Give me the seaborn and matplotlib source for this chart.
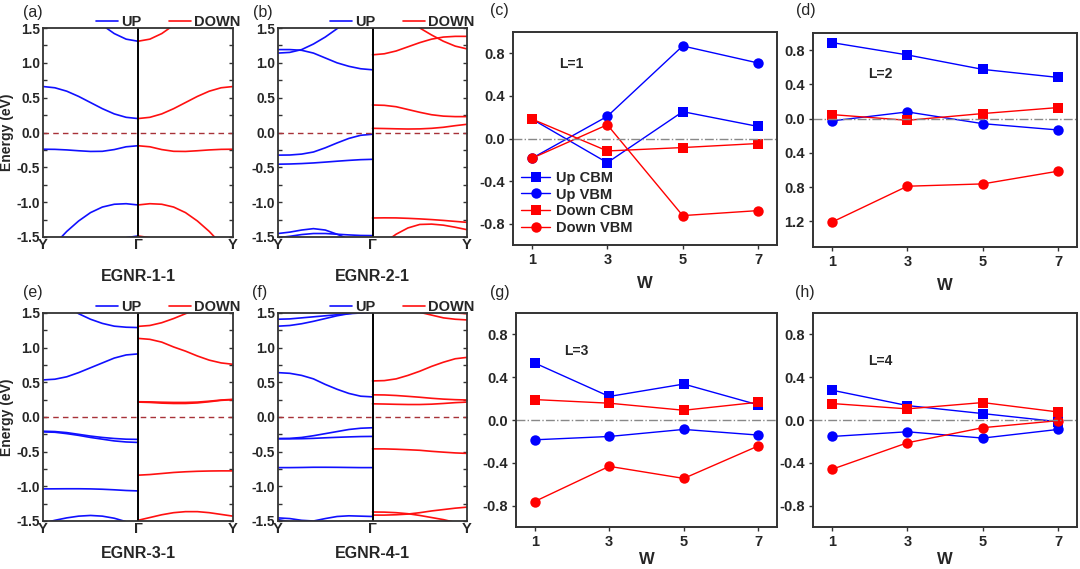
"""
Spin-resolved band structures of EGNR-n-1 and band-edge shifts vs W.
"""

import matplotlib
matplotlib.use('Agg')
import matplotlib.pyplot as plt
from matplotlib.lines import Line2D
import pandas as pd
import seaborn as sns

# ---------------------------------------------------------------
# Band data: energies (eV) sampled along the path.
# UP bands listed Y -> Gamma, DOWN bands listed Gamma -> Y.
# ---------------------------------------------------------------
K = [0.0, 0.125, 0.25, 0.375, 0.5, 0.625, 0.75, 0.875, 1.0]

A_UP = [
    [0.66, 0.642, 0.593, 0.518, 0.43, 0.342, 0.267, 0.218, 0.20],
    [-0.24, -0.242, -0.25, -0.262, -0.272, -0.27, -0.245, -0.205, -0.19],
    [-1.80, -1.60, -1.42, -1.27, -1.15, -1.07, -1.03, -1.022, -1.04],
    [1.98, 1.94, 1.87, 1.77, 1.66, 1.54, 1.42, 1.34, 1.31],
    [-2.1, -2.0, -1.9, -1.8, -1.7, -1.62, -1.56, -1.51, -1.485],
]
A_DOWN = [
    [0.20, 0.218, 0.267, 0.342, 0.43, 0.518, 0.593, 0.642, 0.66],
    [-0.19, -0.205, -0.245, -0.27, -0.272, -0.262, -0.25, -0.242, -0.24],
    [-1.04, -1.022, -1.03, -1.07, -1.15, -1.27, -1.42, -1.60, -1.80],
    [1.31, 1.34, 1.42, 1.54, 1.66, 1.77, 1.87, 1.94, 1.98],
    [-1.485, -1.51, -1.56, -1.62, -1.7, -1.8, -1.9, -2.0, -2.1],
]

B_UP = [
    [1.14, 1.15, 1.19, 1.27, 1.37, 1.49, 1.60, 1.68, 1.72],
    [1.19, 1.19, 1.18, 1.14, 1.07, 1.00, 0.95, 0.915, 0.90],
    [-0.325, -0.323, -0.31, -0.28, -0.22, -0.15, -0.085, -0.04, -0.025],
    [-0.455, -0.452, -0.446, -0.437, -0.425, -0.412, -0.40, -0.39, -0.385],
    [-1.45, -1.43, -1.40, -1.38, -1.40, -1.46, -1.53, -1.60, -1.66],
    [-1.51, -1.49, -1.465, -1.45, -1.45, -1.46, -1.47, -1.478, -1.48],
]
B_DOWN = [
    [1.115, 1.13, 1.17, 1.23, 1.29, 1.34, 1.37, 1.38, 1.38],
    [1.95, 1.86, 1.76, 1.63, 1.50, 1.40, 1.31, 1.24, 1.20],
    [0.395, 0.39, 0.37, 0.33, 0.29, 0.255, 0.235, 0.228, 0.228],
    [0.06, 0.057, 0.053, 0.05, 0.052, 0.06, 0.075, 0.098, 0.118],
    [-1.227, -1.225, -1.226, -1.232, -1.24, -1.25, -1.262, -1.276, -1.29],
    [-1.70, -1.58, -1.46, -1.37, -1.32, -1.315, -1.33, -1.36, -1.395],
]

E_UP = [
    [1.88, 1.74, 1.60, 1.49, 1.41, 1.35, 1.31, 1.295, 1.29],
    [0.535, 0.545, 0.58, 0.64, 0.71, 0.78, 0.85, 0.895, 0.91],
    [-0.205, -0.21, -0.225, -0.25, -0.275, -0.295, -0.31, -0.32, -0.323],
    [-0.215, -0.22, -0.24, -0.265, -0.295, -0.32, -0.345, -0.36, -0.367],
    [-1.037, -1.036, -1.035, -1.035, -1.037, -1.042, -1.05, -1.06, -1.066],
    [-1.53, -1.49, -1.455, -1.43, -1.42, -1.43, -1.46, -1.51, -1.56],
]
E_DOWN = [
    [1.307, 1.32, 1.36, 1.42, 1.49, 1.56, 1.62, 1.67, 1.70],
    [1.134, 1.12, 1.08, 1.01, 0.95, 0.88, 0.82, 0.78, 0.76],
    [0.22, 0.218, 0.213, 0.21, 0.21, 0.215, 0.228, 0.245, 0.255],
    [0.215, 0.21, 0.20, 0.195, 0.195, 0.203, 0.22, 0.24, 0.25],
    [-0.839, -0.83, -0.815, -0.80, -0.79, -0.783, -0.779, -0.777, -0.777],
    [-1.49, -1.45, -1.41, -1.38, -1.365, -1.365, -1.38, -1.405, -1.43],
]

F_UP = [
    [1.41, 1.415, 1.43, 1.445, 1.46, 1.475, 1.49, 1.50, 1.51],
    [1.31, 1.32, 1.345, 1.38, 1.42, 1.46, 1.49, 1.515, 1.53],
    [0.64, 0.63, 0.60, 0.55, 0.47, 0.40, 0.34, 0.30, 0.29],
    [-0.31, -0.308, -0.295, -0.27, -0.24, -0.21, -0.18, -0.162, -0.155],
    [-0.315, -0.315, -0.313, -0.308, -0.30, -0.293, -0.287, -0.282, -0.28],
    [-0.73, -0.73, -0.728, -0.725, -0.725, -0.726, -0.728, -0.73, -0.73],
    [-1.455, -1.465, -1.49, -1.50, -1.465, -1.435, -1.425, -1.43, -1.435],
    [-1.48, -1.51, -1.58, -1.65, -1.72, -1.78, -1.82, -1.85, -1.87],
]
F_DOWN = [
    [1.78, 1.72, 1.65, 1.57, 1.51, 1.47, 1.43, 1.41, 1.40],
    [1.95, 1.86, 1.77, 1.69, 1.62, 1.56, 1.52, 1.50, 1.49],
    [0.52, 0.525, 0.55, 0.60, 0.66, 0.73, 0.79, 0.84, 0.86],
    [0.32, 0.318, 0.31, 0.298, 0.285, 0.27, 0.258, 0.25, 0.245],
    [0.19, 0.187, 0.183, 0.18, 0.18, 0.185, 0.195, 0.207, 0.215],
    [-0.46, -0.46, -0.465, -0.472, -0.48, -0.495, -0.507, -0.518, -0.525],
    [-1.37, -1.372, -1.38, -1.395, -1.42, -1.45, -1.48, -1.52, -1.56],
    [-1.415, -1.415, -1.41, -1.40, -1.38, -1.355, -1.335, -1.315, -1.30],
]

# ---------------------------------------------------------------
# Band edges (eV) vs ribbon width W for L = 1..4
# ---------------------------------------------------------------
W = [1, 3, 5, 7]

L1_UP_CBM = [0.183, -0.227, 0.252, 0.113]
L1_UP_VBM = [-0.186, 0.208, 0.869, 0.709]
L1_DOWN_CBM = [0.183, -0.117, -0.085, -0.047]
L1_DOWN_VBM = [-0.186, 0.129, -0.724, -0.677]

L2_UP_CBM = [0.888, 0.744, 0.575, 0.481]
L2_UP_VBM = [-0.027, 0.078, -0.059, -0.133]
L2_DOWN_CBM = [0.047, -0.020, 0.059, 0.129]
L2_DOWN_VBM = [-1.21, -0.79, -0.763, -0.614]

L3_UP_CBM = [0.533, 0.220, 0.336, 0.141]
L3_UP_VBM = [-0.185, -0.154, -0.088, -0.141]
L3_DOWN_CBM = [0.191, 0.157, 0.091, 0.166]
L3_DOWN_VBM = [-0.762, -0.433, -0.546, -0.242]

L4_UP_CBM = [0.279, 0.135, 0.060, -0.016]
L4_UP_VBM = [-0.154, -0.110, -0.169, -0.088]
L4_DOWN_CBM = [0.154, 0.104, 0.163, 0.075]
L4_DOWN_VBM = [-0.461, -0.213, -0.072, -0.006]

SERIES = ['Up CBM', 'Up VBM', 'Down CBM', 'Down VBM']
SERIES_COLOR = {'Up CBM': 'blue', 'Up VBM': 'blue', 'Down CBM': 'red', 'Down VBM': 'red'}
SERIES_MARKER = {'Up CBM': 's', 'Up VBM': 'o', 'Down CBM': 's', 'Down VBM': 'o'}

W_PX, H_PX = 1080, 569

sns.set_theme(style='ticks')
plt.rcParams['font.family'] = ['Liberation Sans', 'DejaVu Sans']
plt.rcParams['font.weight'] = 'bold'
plt.rcParams['axes.unicode_minus'] = False


def px_axes(fig, left, top, right, bottom):
    """Add axes from pixel box (y measured from top)."""
    return fig.add_axes([left / W_PX, 1 - bottom / H_PX,
                         (right - left) / W_PX, (bottom - top) / H_PX])


def band_frame(up, down):
    rows = []
    for i, band in enumerate(up):
        for k, e in zip(K, band):
            rows.append(('UP', f'u{i}', k, e))
    for i, band in enumerate(down):
        for k, e in zip(K, band):
            rows.append(('DOWN', f'd{i}', 1 + k, e))
    return pd.DataFrame(rows, columns=['spin', 'band', 'k', 'E'])


def draw_bands(ax, up, down, ylabel):
    df = band_frame(up, down)
    sns.lineplot(data=df, x='k', y='E', hue='spin', units='band',
                 estimator=None, sort=False, legend=False, lw=1.2,
                 palette={'UP': '#1010ff', 'DOWN': '#ff1010'}, ax=ax)
    ax.axhline(0, color='#a83238', lw=1.0, ls=(0, (4, 3)))
    ax.axvline(1, color='black', lw=1.4)
    ax.set_xlim(0, 2)
    ax.set_ylim(-1.5, 1.5)
    ax.set_xticks([0, 1, 2])
    ax.set_xticklabels(['Y', 'Γ', 'Y'], fontsize=10.5, fontweight='bold')
    yt = [-1.5, -1.0, -0.5, 0.0, 0.5, 1.0, 1.5]
    ax.set_yticks(yt)
    ax.set_yticklabels([f'{v:.1f}' for v in yt], fontsize=9.8, fontweight='bold')
    ax.set_yticks([-1.25, -0.75, -0.25, 0.25, 0.75, 1.25], minor=True)
    ax.tick_params(axis='x', length=0, pad=1)
    ax.tick_params(axis='y', which='both', direction='in', right=True,
                   length=3, width=1, pad=2, color='#333333')
    ax.set_xlabel('')
    ax.set_ylabel(ylabel, fontsize=10, fontweight='bold', labelpad=2)
    for s in ax.spines.values():
        s.set_linewidth(1.3)
        s.set_color('#333333')
    handles = [Line2D([], [], color='#1010ff', lw=1.2),
               Line2D([], [], color='#ff1010', lw=1.2)]
    ax.legend(handles, ['UP', 'DOWN'], ncol=2, loc='center right',
              bbox_to_anchor=(1.037, 1.03), frameon=False, borderpad=0,
              borderaxespad=0, handlelength=1.5, handletextpad=0.2,
              columnspacing=1.9, prop={'size': 10.5, 'weight': 'bold'})


def draw_edges(ax, values, ylim, yticks, yticklabels, tag, tag_xy,
               legend=False, xlabelpad=6):
    for name, vals in zip(SERIES, values):
        sns.lineplot(x=W, y=vals, color=SERIES_COLOR[name],
                     marker=SERIES_MARKER[name], markersize=7.5,
                     markeredgewidth=0, lw=1.0, label=name, ax=ax)
    ax.axhline(0, color='#888888', lw=1.0, ls='-.')
    ax.set_xlim(0.5, 7.5)
    ax.set_ylim(*ylim)
    ax.set_xticks(W)
    ax.set_xticklabels([str(w) for w in W], fontsize=10.5, fontweight='bold')
    ax.set_yticks(yticks)
    ax.set_yticklabels(yticklabels, fontsize=10.5, fontweight='bold')
    ax.tick_params(axis='both', direction='out', length=3, width=1,
                   pad=3, color='#333333')
    ax.set_xlabel('W', fontsize=12, fontweight='bold', labelpad=xlabelpad)
    ax.set_ylabel('')
    ax.text(tag_xy[0], tag_xy[1], tag, fontsize=10, fontweight='bold')
    for s in ax.spines.values():
        s.set_linewidth(1.4)
        s.set_color('#333333')
    if legend:
        ax.legend(loc='lower left', bbox_to_anchor=(0.03, 0.045),
                  frameon=False, borderpad=0, borderaxespad=0,
                  handlelength=2.0, handletextpad=0.4, labelspacing=0.2,
                  prop={'size': 10.5, 'weight': 'bold'})
    else:
        ax.get_legend().remove()


def main():
    fig = plt.figure(figsize=(W_PX / 100, H_PX / 100), dpi=100)

    ax_a = px_axes(fig, 43, 28, 233, 237)
    ax_b = px_axes(fig, 278, 28, 467, 237)
    ax_c = px_axes(fig, 513, 32, 777, 245)
    ax_d = px_axes(fig, 813, 33, 1077, 247)
    ax_e = px_axes(fig, 43, 313, 233, 521)
    ax_f = px_axes(fig, 278, 313, 467, 521)
    ax_g = px_axes(fig, 516, 313, 777, 527)
    ax_h = px_axes(fig, 813, 313, 1077, 527)

    draw_bands(ax_a, A_UP, A_DOWN, 'Energy (eV)')
    draw_bands(ax_b, B_UP, B_DOWN, '')
    draw_bands(ax_e, E_UP, E_DOWN, 'Energy (eV)')
    draw_bands(ax_f, F_UP, F_DOWN, '')

    std_ticks = [-0.8, -0.4, 0.0, 0.4, 0.8]
    std_labels = [f'{v:.1f}' for v in std_ticks]
    draw_edges(ax_c, [L1_UP_CBM, L1_UP_VBM, L1_DOWN_CBM, L1_DOWN_VBM],
               (-1.0, 1.0), std_ticks, std_labels, 'L=1', (1.72, 0.66), legend=True)
    # minus signs of panel (d) are cut off in the source figure
    d_ticks = [-1.2, -0.8, -0.4, 0.0, 0.4, 0.8]
    d_labels = ['1.2', '0.8', '0.4', '0.0', '0.4', '0.8']
    draw_edges(ax_d, [L2_UP_CBM, L2_UP_VBM, L2_DOWN_CBM, L2_DOWN_VBM],
               (-1.5, 1.0), d_ticks, d_labels, 'L=2', (1.95, 0.48))
    draw_edges(ax_g, [L3_UP_CBM, L3_UP_VBM, L3_DOWN_CBM, L3_DOWN_VBM],
               (-1.0, 1.0), std_ticks, std_labels, 'L=3', (1.78, 0.61),
               xlabelpad=2)
    draw_edges(ax_h, [L4_UP_CBM, L4_UP_VBM, L4_DOWN_CBM, L4_DOWN_VBM],
               (-1.0, 1.0), std_ticks, std_labels, 'L=4', (1.95, 0.51),
               xlabelpad=2)

    # structure names under the band panels
    for name, x, y in [('EGNR-1-1', 138, 276), ('EGNR-2-1', 372, 276),
                       ('EGNR-3-1', 138, 554), ('EGNR-4-1', 372, 554)]:
        fig.text(x / W_PX, 1 - y / H_PX, name, ha='center', va='center',
                 fontsize=11.5, fontweight='bold')

    # panel letters
    for tag, x, y in [('(a)', 23, 12), ('(b)', 253, 12), ('(c)', 490, 11),
                      ('(d)', 796, 11), ('(e)', 23, 293), ('(f)', 252, 293),
                      ('(g)', 490, 293), ('(h)', 795, 293)]:
        fig.text(x / W_PX, 1 - y / H_PX, tag, ha='left', va='center',
                 fontsize=11.5, fontweight='normal')

    fig.savefig('out.png', dpi=100)
    plt.close(fig)


if __name__ == '__main__':
    main()
